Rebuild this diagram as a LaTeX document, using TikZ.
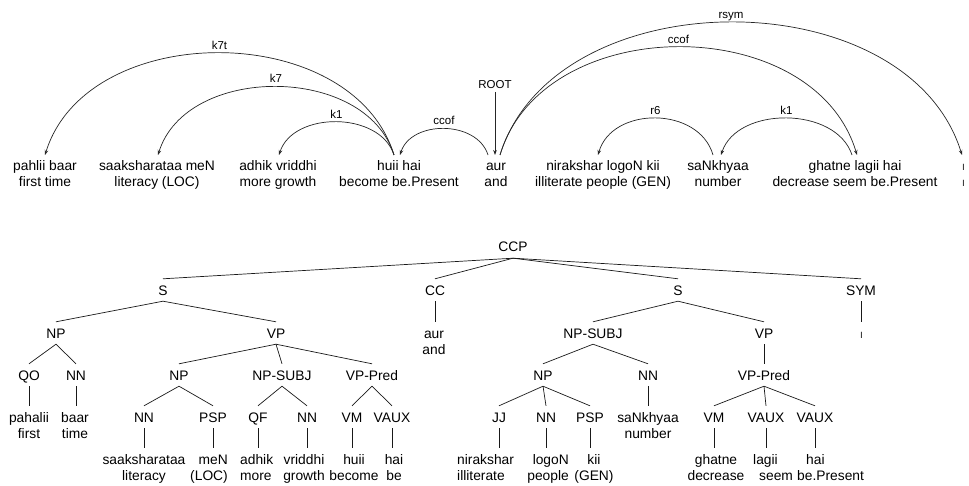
\documentclass[tikz,border=0pt]{standalone}
\usepackage{fontspec}
\setmainfont{Liberation Sans}
\newfontfamily\devfont[Script=Devanagari]{Noto Sans}
\usetikzlibrary{arrows.meta,calc}

% strut that fixes the height of a first text line
\newcommand\lnstrut{\rule{0pt}{10pt}}
% Devanagari full stop, set small
\newcommand\danda{{\devfont\fontsize{10}{16.5}\selectfont ।}}

% dependency arc: from, to, horizontal control offset, control height, relation label
\newcommand\deparc[5]{%
  \draw[dep] (#1) .. controls +(#3,-#4) and +(-#3,-#4) .. (#2)
    node[rel, pos=0.5] {#5};}

\begin{document}
\begin{tikzpicture}[x=1pt,y=-1pt,
  every node/.style={font=\fontsize{13.8}{16.5}\selectfont, text=black},
  word/.style={anchor=north, align=center, inner ysep=5pt, inner xsep=0pt},
  rel/.style={font=\fontsize{11.5}{13}\selectfont, text height=8.3pt, text depth=0pt,
              inner ysep=3.5pt, inner xsep=1pt, anchor=south},
  dep/.style={draw=black!85, line width=0.7pt, -{Stealth[length=5pt,width=3.6pt]}},
  cat/.style={text height=10pt, text depth=0pt, inner ysep=6pt, inner xsep=1pt},
  leaf/.style={anchor=north, align=center, inner ysep=6pt, inner xsep=0pt},
  branch/.style={draw=black!90, line width=0.7pt},
]
\useasboundingbox (0,0) rectangle (969,486);

% ---------------- dependency analysis ----------------
\node[word] (w1) at (45,155)  {\lnstrut pahlii baar\\first time};
\node[word] (w2) at (157,155) {\lnstrut saaksharataa meN\\literacy (LOC)};
\node[word] (w3) at (278,155) {\lnstrut adhik vriddhi\\more growth};
\node[word] (w4) at (399,155) {\lnstrut huii hai\\become be.Present};
\node[word] (w5) at (496,155) {\lnstrut aur\\and};
\node[word] (w6) at (603,155) {\lnstrut nirakshar logoN kii\\illiterate people (GEN)};
\node[word] (w7) at (718,155) {\lnstrut saNkhyaa\\number};
\node[word] (w8) at (855,155) {\lnstrut ghatne lagii hai\\decrease seem be.Present};
\node[word] (w9) at (963,155) {\lnstrut\danda\\\danda};

\deparc{[xshift=-5pt]w4.north}{w1.north}{-42}{136}{k7t}
\deparc{[xshift=-5pt]w4.north}{[xshift=1pt]w2.north}{-28}{91}{k7}
\deparc{[xshift=-5pt]w4.north}{[xshift=1pt]w3.north}{-14}{44}{k1}
\deparc{[xshift=-8pt]w5.north}{[xshift=1pt]w4.north}{-11}{35}{ccof}
\deparc{[xshift=4pt]w5.north}{[xshift=-1pt]w9.north}{55}{177}{rsym}
\deparc{[xshift=4pt]w5.north}{[xshift=2pt]w8.north}{43}{144}{ccof}
\deparc{[xshift=-5pt]w7.north}{[xshift=-5pt]w6.north}{-14}{49}{r6}
\deparc{[xshift=-3pt]w8.north}{[xshift=3pt]w7.north}{-16}{49}{k1}

\node[rel, anchor=center] (root) at (495,84) {ROOT};
\draw[dep] (root.south) -- ([xshift=-1pt]w5.north);

% ---------------- constituency tree ----------------
\node[cat] (ccp)  at (513,247) {CCP};

\node[cat] (s1)   at (163,290) {S};
\node[cat] (cc)   at (435,290) {CC};
\node[cat] (s2)   at (678,290) {S};
\node[cat] (sym)  at (861,290) {SYM};

\node[cat] (np1)  at (56,333)  {NP};
\node[cat] (vp1)  at (276,333) {VP};
\node[leaf] (l-aur) at (434,322) {\lnstrut aur\\and};
\node[cat] (nps2) at (593,333) {NP-SUBJ};
\node[cat] (vp2)  at (764,333) {VP};
\node[leaf] (l-danda) at (861,322) {\lnstrut\danda};

\node[cat] (qo)   at (29,375)  {QO};
\node[cat] (nn1)  at (76,375)  {NN};
\node[cat] (np2)  at (179,375) {NP};
\node[cat] (nps1) at (282,375) {NP-SUBJ};
\node[cat] (vpp1) at (372,375) {VP-Pred};
\node[cat] (np3)  at (543,375) {NP};
\node[cat] (nn4)  at (648,375) {NN};
\node[cat] (vpp2) at (764,375) {VP-Pred};

\node[leaf] (l-pahalii) at (29,406)  {\lnstrut pahalii\\first};
\node[leaf] (l-baar)    at (75,406)  {\lnstrut baar\\time};
\node[cat] (nn2)   at (144,417) {NN};
\node[cat] (psp1)  at (213,417) {PSP};
\node[cat] (qf)    at (258,417) {QF};
\node[cat] (nn3)   at (307,417) {NN};
\node[cat] (vm1)   at (352,417) {VM};
\node[cat] (vaux1) at (392,417) {VAUX};
\node[cat] (jj)    at (499,417) {JJ};
\node[cat] (nn5)   at (546,417) {NN};
\node[cat] (psp2)  at (590,417) {PSP};
\node[leaf] (l-sankhyaa) at (648,406) {\lnstrut saNkhyaa\\number};
\node[cat] (vm2)   at (714,417) {VM};
\node[cat] (vaux2) at (766,417) {VAUX};
\node[cat] (vaux3) at (815,417) {VAUX};

\node[leaf] (l-saaks)   at (144,448) {\lnstrut saaksharataa\\literacy};
\node[leaf, anchor=north east, align=right] (l-men) at (228,448) {\lnstrut meN\\(LOC)};
\node[leaf, anchor=north west, align=left] (l-adhik) at (240,448) {\lnstrut adhik\\more};
\node[leaf] (l-vriddhi) at (304,448) {\lnstrut vriddhi\\growth};
\node[leaf] (l-huii)    at (354,448) {\lnstrut huii\\become};
\node[leaf] (l-hai)     at (394,448) {\lnstrut hai\\be};
\node[leaf, anchor=north west, align=left] (l-nirakshar) at (457,448) {\lnstrut nirakshar\\illiterate};
\node[leaf, anchor=north east, align=right] (l-logon) at (569,448) {\lnstrut logoN\\people};
\node[leaf] (l-kii)     at (594,448) {\lnstrut kii\\(GEN)};
\node[leaf] (l-ghatne)  at (716,448) {\lnstrut ghatne\\decrease};
\node[leaf, anchor=north west, align=left] (l-lagii) at (753,448) {\lnstrut lagii\\\hspace*{6pt}seem};
\node[leaf, anchor=north west, align=left] (l-hai2) at (797,448) {\lnstrut\hspace*{9pt}hai\\be.Present};

% branches
\foreach \c in {s1,cc,s2,sym} \draw[branch] (ccp.south) -- (\c.north);
\foreach \c in {np1,vp1} \draw[branch] (s1.south) -- (\c.north);
\foreach \c in {qo,nn1} \draw[branch] (np1.south) -- (\c.north);
\foreach \c in {np2,nps1,vpp1} \draw[branch] (vp1.south) -- (\c.north);
\foreach \c in {nn2,psp1} \draw[branch] (np2.south) -- (\c.north);
\foreach \c in {qf,nn3} \draw[branch] (nps1.south) -- (\c.north);
\foreach \c in {vm1,vaux1} \draw[branch] (vpp1.south) -- (\c.north);
\foreach \c in {nps2,vp2} \draw[branch] (s2.south) -- (\c.north);
\foreach \c in {np3,nn4} \draw[branch] (nps2.south) -- (\c.north);
\foreach \c in {jj,nn5,psp2} \draw[branch] (np3.south) -- (\c.north);
\draw[branch] (vp2.south) -- (vpp2.north);
\foreach \c in {vm2,vaux2,vaux3} \draw[branch] (vpp2.south) -- (\c.north);

% pre-terminal to word links
\foreach \p/\w in {cc/l-aur, sym/l-danda, qo/l-pahalii, nn1/l-baar, nn4/l-sankhyaa,
                   nn2/l-saaks, psp1/l-men, qf/l-adhik, nn3/l-vriddhi, vm1/l-huii,
                   vaux1/l-hai, jj/l-nirakshar, nn5/l-logon, psp2/l-kii,
                   vm2/l-ghatne, vaux2/l-lagii, vaux3/l-hai2}
  \draw[branch] (\p.south) -- (\p.south |- \w.north);
\end{tikzpicture}
\end{document}
